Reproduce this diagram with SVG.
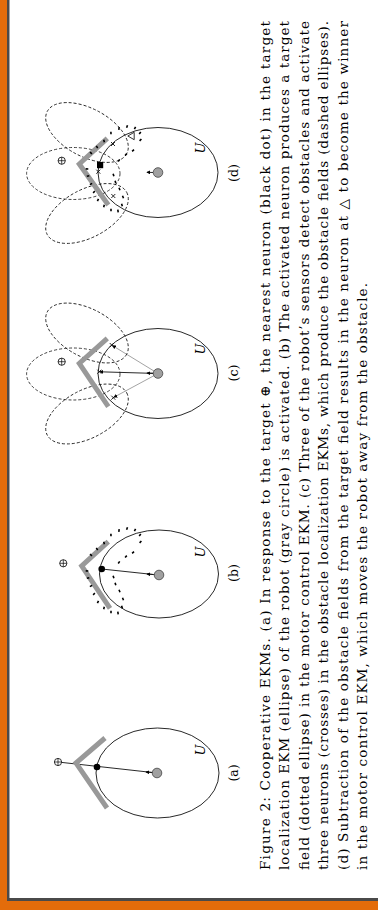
<svg xmlns="http://www.w3.org/2000/svg" xmlns:xlink="http://www.w3.org/1999/xlink" width="378" height="910" viewBox="0 0 378 910">
<style>
.loc{fill:none;stroke:#111;stroke-width:0.9}
.dash{fill:none;stroke:#111;stroke-width:0.8;stroke-dasharray:3 2}
.obst{fill:none;stroke:#999;stroke-width:5;stroke-linejoin:miter}
.robot{fill:#a0a0a0;stroke:#444;stroke-width:0.8}
.ln{stroke:#111;stroke-width:0.9;fill:none}
.gln{stroke:#999;stroke-width:0.9;fill:none}
.tk{stroke:#000;stroke-width:1.6;fill:none}
.cap{font-family:"DejaVu Serif","Liberation Serif",serif;font-size:13.6px;fill:#000}
.lab{font-family:"DejaVu Serif","Liberation Serif",serif;font-size:12.5px;fill:#000;text-anchor:middle}
.u{font-family:"DejaVu Serif","Liberation Serif",serif;font-size:13px;font-style:italic;fill:#000;text-anchor:middle}
.tgt{fill:#fff;stroke:#000;stroke-width:0.8}
</style>
<defs>
<marker id="ah" viewBox="0 0 6 6" refX="5" refY="3" markerWidth="4" markerHeight="4" orient="auto" markerUnits="userSpaceOnUse">
<path d="M0,0 L6,3 L0,6 z" fill="#000"/>
</marker>
<g id="target-sym">
<circle cx="0" cy="0" r="3.6" class="tgt"/>
<path d="M-3.6,0 H3.6 M0,-3.6 V3.6" stroke="#000" stroke-width="0.7"/>
</g>
<g id="tf" class="tk">
<path d="M92,555.8 l-2,-1.6 M97.7,550.1 l-1.4,-2.2 M104.4,544.3 l-0.7,-2.5 M111,536.3 l-0.1,-2.6 M118.8,531.8 l0.4,-2.6 M126.6,529.7 l0.9,-2.5 M134.4,531.1 l1.2,-2.3 M139.2,536 l1.6,-2.1 M139.6,542.9 l1.8,-1.9 M132.1,553.4 l1.9,-1.8 M125.1,557.5 l1.7,-1.9 M118.2,563.5 l1.5,-2.1 M113.1,575.8 l0.8,2.5 M115.1,582.8 l0.7,2.5 M119,589.8 l1,2.4 M122.5,597.8 l1,2.4 M121.6,605.8 l0.7,2.5 M117.8,611.7 l0.4,2.6 M111,610.7 l0,2.6 M104.3,606.7 l-0.6,2.5 M98.5,600.8 l-1.1,2.4 M94.8,593 l-1.6,2 M92.1,585.3 l-2.2,1.4 M89.3,577.7 l-2.5,0.6 M88.3,571 l-2.6,-0.1"/>
</g>
</defs>

<g id="frame">
<rect x="0" y="0" width="378" height="910" fill="#E36C0A"/>
<rect x="7" y="-10" width="380" height="911" fill="#4a4a4a"/>
<rect x="9.5" y="-10" width="380" height="908" fill="#fff"/>
</g>

<g id="connectors">
<!-- (a) -->
<path class="ln" d="M157,773 L61.5,762.4"/>
<path class="ln" d="M152,772.5 L146,772" marker-end="url(#ah)"/>
<!-- (b) -->
<path class="ln" d="M158,575 L101.7,569"/>
<path class="ln" d="M153,574.5 L147,574" marker-end="url(#ah)"/>
<!-- (c) -->
<path class="gln" d="M158,373.5 L112.5,345.6" marker-end="url(#ah)"/>
<path class="ln" d="M158,373.5 L100,371.8" marker-end="url(#ah)"/>
<path class="gln" d="M158,373.5 L114,397.2" marker-end="url(#ah)"/>
<path class="ln" d="M153,373.3 L147,373.1" marker-end="url(#ah)"/>
<!-- (d) -->
<path class="ln" d="M153,172.5 L147,172.3" marker-end="url(#ah)"/>
</g>

<g id="panel-a">
<ellipse class="loc" cx="157.5" cy="773" rx="61.5" ry="45"/>
<path class="obst" d="M105,738 L76,763 L107,808"/>
<circle cx="97" cy="767" r="3.3" fill="#000"/>
<use xlink:href="#target-sym" href="#target-sym" transform="translate(58,762)"/>
<circle class="robot" cx="157" cy="773" r="4.8"/>
</g>

<g id="panel-b">
<ellipse class="loc" cx="159" cy="574" rx="59.5" ry="44"/>
<path class="obst" d="M108.3,541.7 L81.7,566 L110,608.3"/>
<use xlink:href="#tf" href="#tf"/>
<circle cx="101.7" cy="569" r="3.3" fill="#000"/>
<use xlink:href="#target-sym" href="#target-sym" transform="translate(63.3,563.3)"/>
<circle class="robot" cx="159" cy="575" r="4.8"/>
</g>

<g id="panel-c">
<ellipse class="loc" cx="158" cy="373.5" rx="60" ry="45"/>
<ellipse class="dash" cx="87" cy="333" rx="45" ry="24" transform="rotate(28 87 333)"/>
<ellipse class="dash" cx="73.3" cy="374" rx="46.7" ry="26"/>
<ellipse class="dash" cx="87" cy="414" rx="45" ry="24" transform="rotate(-28 87 414)"/>
<path class="obst" d="M107.3,338.3 L79.3,363.3 L108.3,406.7"/>
<path class="ln" d="M109.7,343 l4,4 M113.7,343 l-4,4 M97.3,369.7 l4,4 M101.3,369.7 l-4,4 M111.3,395.7 l4,4 M115.3,395.7 l-4,4"/>
<use xlink:href="#target-sym" href="#target-sym" transform="translate(61.7,361.7)"/>
<circle class="robot" cx="158" cy="373.5" r="4.8"/>
</g>

<g id="panel-d">
<ellipse class="loc" cx="158" cy="172.5" rx="60" ry="45"/>
<ellipse class="dash" cx="87" cy="132.5" rx="45" ry="24" transform="rotate(28 87 132.5)"/>
<ellipse class="dash" cx="73.3" cy="173.5" rx="46.7" ry="26"/>
<ellipse class="dash" cx="87" cy="213.5" rx="45" ry="24" transform="rotate(-28 87 213.5)"/>
<path class="obst" d="M107.3,138.3 L79.3,164 L108.3,205"/>
<use xlink:href="#tf" href="#tf" transform="translate(0,-402)"/>
<path class="ln" d="M111,142 l4,4 M115,142 l-4,4 M96.3,169.7 l4,4 M100.3,169.7 l-4,4 M111.3,194 l4,4 M115.3,194 l-4,4"/>
<rect x="97" y="162" width="6.2" height="6.2" fill="#000"/>
<path d="M127.8,136 L134.2,132.3 L134.2,139.7 Z" fill="#fff" stroke="#000" stroke-width="0.8"/>
<use xlink:href="#target-sym" href="#target-sym" transform="translate(61.7,160.7)"/>
<circle class="robot" cx="158" cy="172.5" r="4.8"/>
</g>

<g id="labels" transform="rotate(-90)">
<text class="u" x="-750" y="204.5">U</text>
<text class="u" x="-552" y="204.5">U</text>
<text class="u" x="-349" y="204.5">U</text>
<text class="u" x="-148" y="204.5">U</text>
<text class="lab" x="-773" y="238">(a)</text>
<text class="lab" x="-573" y="238">(b)</text>
<text class="lab" x="-373" y="238">(c)</text>
<text class="lab" x="-173" y="238">(d)</text>
</g>

<g id="caption" transform="rotate(-90)">
<text class="cap" x="-870" y="270" textLength="849" lengthAdjust="spacing">Figure 2: Cooperative EKMs. (a) In response to the target ⊕, the nearest neuron (black dot) in the target</text>
<text class="cap" x="-870" y="289.4" textLength="849" lengthAdjust="spacing">localization EKM (ellipse) of the robot (gray circle) is activated. (b) The activated neuron produces a target</text>
<text class="cap" x="-870" y="308.8" textLength="849" lengthAdjust="spacing">field (dotted ellipse) in the motor control EKM. (c) Three of the robot’s sensors detect obstacles and activate</text>
<text class="cap" x="-870" y="328.2" textLength="849" lengthAdjust="spacing">three neurons (crosses) in the obstacle localization EKMs, which produce the obstacle fields (dashed ellipses).</text>
<text class="cap" x="-870" y="347.6" textLength="849" lengthAdjust="spacing">(d) Subtraction of the obstacle fields from the target field results in the neuron at △ to become the winner</text>
<text class="cap" x="-870" y="367" textLength="587" lengthAdjust="spacing">in the motor control EKM, which moves the robot away from the obstacle.</text>
</g>
</svg>
